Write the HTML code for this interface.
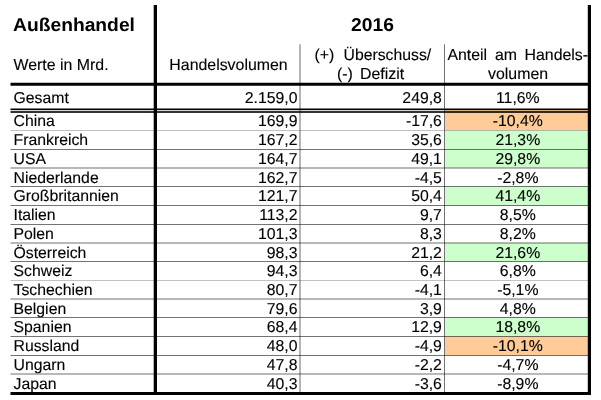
<!DOCTYPE html>
<html lang="de"><head><meta charset="utf-8"><title>Außenhandel 2016</title>
<style>
html,body{margin:0;padding:0;background:#fff;}
body{width:601px;height:400px;position:relative;overflow:hidden;font-family:"Liberation Sans",Arial,sans-serif;color:#000;}
svg{position:absolute;left:0;top:0;}
.a{position:absolute;white-space:nowrap;line-height:1;text-rendering:geometricPrecision;}
.t{font-size:15.8px;-webkit-text-stroke:0.12px #000;}
.h{font-size:15.9px;-webkit-text-stroke:0.12px #000;}
.b{font-size:18.67px;font-weight:bold;}
.r{text-align:right;}
.c{text-align:center;}
</style></head><body>
<svg width="601" height="400" viewBox="0 0 601 400">

<rect x="445" y="109.60" width="144" height="20.80" fill="#ffcc99"/>
<rect x="445" y="130.40" width="144" height="18.90" fill="#ccffcc"/>
<rect x="445" y="149.30" width="144" height="18.60" fill="#ccffcc"/>
<rect x="445" y="186.60" width="144" height="18.90" fill="#ccffcc"/>
<rect x="445" y="242.80" width="144" height="18.75" fill="#ccffcc"/>
<rect x="445" y="317.45" width="144" height="18.90" fill="#ccffcc"/>
<rect x="445" y="336.35" width="144" height="18.95" fill="#ffcc99"/>
<rect x="10.5" y="130" width="579" height="1" fill="#000" fill-opacity="0.24"/>
<rect x="10.5" y="149" width="579" height="1" fill="#000" fill-opacity="0.55"/>
<rect x="10.5" y="167" width="579" height="2" fill="#000" fill-opacity="0.28"/>
<rect x="10.5" y="186" width="579" height="1" fill="#000" fill-opacity="0.55"/>
<rect x="10.5" y="205" width="579" height="1" fill="#000" fill-opacity="0.55"/>
<rect x="10.5" y="224" width="579" height="1" fill="#000" fill-opacity="0.55"/>
<rect x="10.5" y="242" width="579" height="2" fill="#000" fill-opacity="0.28"/>
<rect x="10.5" y="261" width="579" height="1" fill="#000" fill-opacity="0.55"/>
<rect x="10.5" y="280" width="579" height="1" fill="#000" fill-opacity="0.24"/>
<rect x="10.5" y="298" width="579" height="2" fill="#000" fill-opacity="0.28"/>
<rect x="10.5" y="317" width="579" height="1" fill="#000" fill-opacity="0.55"/>
<rect x="10.5" y="336" width="579" height="1" fill="#000" fill-opacity="0.55"/>
<rect x="10.5" y="355" width="579" height="1" fill="#000" fill-opacity="0.55"/>
<rect x="10.5" y="373" width="579" height="2" fill="#000" fill-opacity="0.28"/>
<line x1="300" y1="44.3" x2="300" y2="393" stroke="rgba(0,0,0,0.29)" stroke-width="2"/>
<line x1="444.5" y1="44.3" x2="444.5" y2="393" stroke="rgba(0,0,0,0.55)" stroke-width="1"/>
<line x1="10.5" y1="109.25" x2="591" y2="109.25" stroke="#000" stroke-width="1.5"/>
<line x1="10.5" y1="110.5" x2="591" y2="110.5" stroke="rgba(0,0,0,0.16)" stroke-width="1"/>
<line x1="10.5" y1="111.95" x2="591" y2="111.95" stroke="rgba(10,5,0,0.82)" stroke-width="1.9"/>
<line x1="155.35" y1="5" x2="155.35" y2="394" stroke="#000" stroke-width="3.3"/>
<line x1="589.4" y1="5" x2="589.4" y2="395" stroke="#000" stroke-width="3.2"/>
<line x1="10.5" y1="84.25" x2="591" y2="84.25" stroke="#000" stroke-width="3.2"/>
<line x1="10.5" y1="393.5" x2="591" y2="393.5" stroke="#000" stroke-width="3"/>
</svg>
<div class="a b" style="left:13.3px;top:15.5px;transform:scaleX(1.032);transform-origin:0 0;">Außenhandel</div>
<div class="a b c" style="left:154.3px;top:15.5px;width:437px;transform:scaleX(1.032);transform-origin:50% 0;">2016</div>
<div class="a h" style="left:13.5px;top:57.5px;">Werte in Mrd.</div>
<div class="a h c" style="left:157px;top:57.5px;width:143px;">Handelsvolumen</div>
<div class="a h" style="left:314.5px;top:48px;">(+)</div>
<div class="a h" style="left:343.6px;top:48px;font-size:15.75px;">Überschuss/</div>
<div class="a h" style="left:337px;top:67px;">(-)</div>
<div class="a h" style="left:360px;top:67px;">Defizit</div>
<div class="a h" style="left:447.4px;top:48px;">Anteil</div>
<div class="a h" style="left:494.9px;top:48px;">am</div>
<div class="a h" style="left:524.5px;top:48px;">Handels-</div>
<div class="a h" style="left:488.0px;top:67px;">volumen</div>
<div class="a t" style="left:13.5px;top:90.5px;">Gesamt</div>
<div class="a t r" style="left:155.5px;top:90.5px;width:142px;">2.159,0</div>
<div class="a t r" style="left:299.9px;top:90.5px;width:142px;">249,8</div>
<div class="a t c" style="left:446.3px;top:90.5px;width:143px;">11,6%</div>
<div class="a t" style="left:13.5px;top:114px;">China</div>
<div class="a t r" style="left:155.5px;top:114px;width:142px;">169,9</div>
<div class="a t r" style="left:299.9px;top:114px;width:142px;">-17,6</div>
<div class="a t c" style="left:446.3px;top:114px;width:143px;">-10,4%</div>
<div class="a t" style="left:13.5px;top:133px;">Frankreich</div>
<div class="a t r" style="left:155.5px;top:133px;width:142px;">167,2</div>
<div class="a t r" style="left:299.9px;top:133px;width:142px;">35,6</div>
<div class="a t c" style="left:446.3px;top:133px;width:143px;">21,3%</div>
<div class="a t" style="left:13.5px;top:152px;">USA</div>
<div class="a t r" style="left:155.5px;top:152px;width:142px;">164,7</div>
<div class="a t r" style="left:299.9px;top:152px;width:142px;">49,1</div>
<div class="a t c" style="left:446.3px;top:152px;width:143px;">29,8%</div>
<div class="a t" style="left:13.5px;top:171px;">Niederlande</div>
<div class="a t r" style="left:155.5px;top:171px;width:142px;">162,7</div>
<div class="a t r" style="left:299.9px;top:171px;width:142px;">-4,5</div>
<div class="a t c" style="left:446.3px;top:171px;width:143px;">-2,8%</div>
<div class="a t" style="left:13.5px;top:189px;">Großbritannien</div>
<div class="a t r" style="left:155.5px;top:189px;width:142px;">121,7</div>
<div class="a t r" style="left:299.9px;top:189px;width:142px;">50,4</div>
<div class="a t c" style="left:446.3px;top:189px;width:143px;">41,4%</div>
<div class="a t" style="left:13.5px;top:208px;">Italien</div>
<div class="a t r" style="left:155.5px;top:208px;width:142px;">113,2</div>
<div class="a t r" style="left:299.9px;top:208px;width:142px;">9,7</div>
<div class="a t c" style="left:446.3px;top:208px;width:143px;">8,5%</div>
<div class="a t" style="left:13.5px;top:227px;">Polen</div>
<div class="a t r" style="left:155.5px;top:227px;width:142px;">101,3</div>
<div class="a t r" style="left:299.9px;top:227px;width:142px;">8,3</div>
<div class="a t c" style="left:446.3px;top:227px;width:143px;">8,2%</div>
<div class="a t" style="left:13.5px;top:246px;">Österreich</div>
<div class="a t r" style="left:155.5px;top:246px;width:142px;">98,3</div>
<div class="a t r" style="left:299.9px;top:246px;width:142px;">21,2</div>
<div class="a t c" style="left:446.3px;top:246px;width:143px;">21,6%</div>
<div class="a t" style="left:13.5px;top:264px;">Schweiz</div>
<div class="a t r" style="left:155.5px;top:264px;width:142px;">94,3</div>
<div class="a t r" style="left:299.9px;top:264px;width:142px;">6,4</div>
<div class="a t c" style="left:446.3px;top:264px;width:143px;">6,8%</div>
<div class="a t" style="left:13.5px;top:283px;">Tschechien</div>
<div class="a t r" style="left:155.5px;top:283px;width:142px;">80,7</div>
<div class="a t r" style="left:299.9px;top:283px;width:142px;">-4,1</div>
<div class="a t c" style="left:446.3px;top:283px;width:143px;">-5,1%</div>
<div class="a t" style="left:13.5px;top:302px;">Belgien</div>
<div class="a t r" style="left:155.5px;top:302px;width:142px;">79,6</div>
<div class="a t r" style="left:299.9px;top:302px;width:142px;">3,9</div>
<div class="a t c" style="left:446.3px;top:302px;width:143px;">4,8%</div>
<div class="a t" style="left:13.5px;top:320px;">Spanien</div>
<div class="a t r" style="left:155.5px;top:320px;width:142px;">68,4</div>
<div class="a t r" style="left:299.9px;top:320px;width:142px;">12,9</div>
<div class="a t c" style="left:446.3px;top:320px;width:143px;">18,8%</div>
<div class="a t" style="left:13.5px;top:339px;">Russland</div>
<div class="a t r" style="left:155.5px;top:339px;width:142px;">48,0</div>
<div class="a t r" style="left:299.9px;top:339px;width:142px;">-4,9</div>
<div class="a t c" style="left:446.3px;top:339px;width:143px;">-10,1%</div>
<div class="a t" style="left:13.5px;top:358px;">Ungarn</div>
<div class="a t r" style="left:155.5px;top:358px;width:142px;">47,8</div>
<div class="a t r" style="left:299.9px;top:358px;width:142px;">-2,2</div>
<div class="a t c" style="left:446.3px;top:358px;width:143px;">-4,7%</div>
<div class="a t" style="left:13.5px;top:377px;">Japan</div>
<div class="a t r" style="left:155.5px;top:377px;width:142px;">40,3</div>
<div class="a t r" style="left:299.9px;top:377px;width:142px;">-3,6</div>
<div class="a t c" style="left:446.3px;top:377px;width:143px;">-8,9%</div>
</body></html>
